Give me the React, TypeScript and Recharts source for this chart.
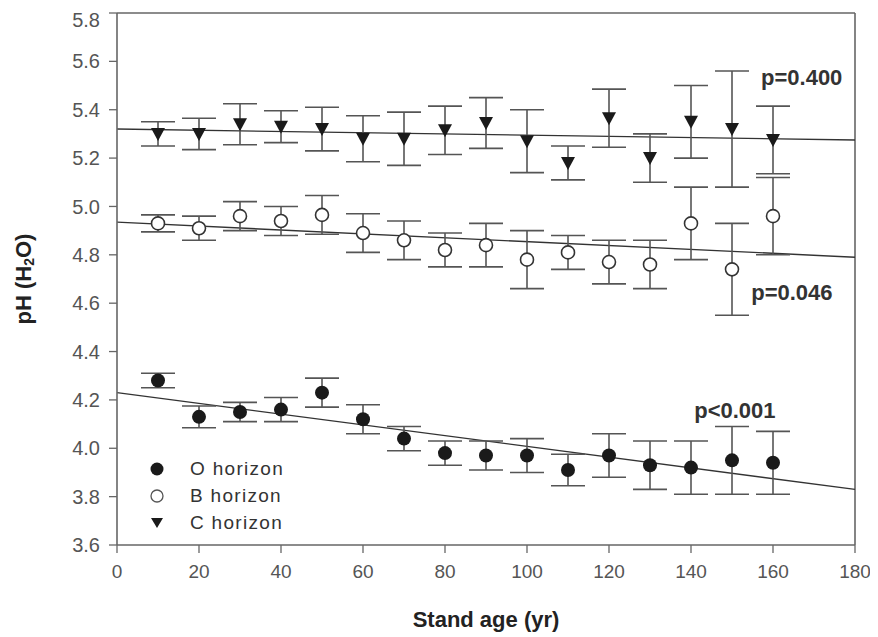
import React from 'react';
import { ComposedChart, Scatter, ErrorBar, XAxis, YAxis, ReferenceLine, ReferenceDot, Label } from 'recharts';

// stand ages (yr)
const ages = [10, 20, 30, 40, 50, 60, 70, 80, 90, 100, 110, 120, 130, 140, 150, 160];

// O horizon
const oMean = [4.28, 4.13, 4.15, 4.16, 4.23, 4.12, 4.04, 3.98, 3.97, 3.97, 3.91, 3.97, 3.93, 3.92, 3.95, 3.94];
const oErr = [0.03, 0.045, 0.04, 0.05, 0.06, 0.06, 0.05, 0.05, 0.06, 0.07, 0.065, 0.09, 0.1, 0.11, 0.14, 0.13];

// B horizon
const bMean = [4.93, 4.91, 4.96, 4.94, 4.965, 4.89, 4.86, 4.82, 4.84, 4.78, 4.81, 4.77, 4.76, 4.93, 4.74, 4.96];
const bErr = [0.035, 0.05, 0.06, 0.06, 0.08, 0.08, 0.08, 0.07, 0.09, 0.12, 0.07, 0.09, 0.1, 0.15, 0.19, 0.16];

// C horizon
const cMean = [5.3, 5.3, 5.34, 5.33, 5.32, 5.28, 5.28, 5.315, 5.345, 5.27, 5.18, 5.365, 5.2, 5.35, 5.32, 5.275];
const cErr = [0.05, 0.065, 0.085, 0.066, 0.09, 0.095, 0.11, 0.1, 0.105, 0.13, 0.07, 0.12, 0.1, 0.15, 0.24, 0.14];

// regression lines, value at age 0 and at age 180
const trendX = [0, 180];
const oTrend = [4.23, 3.83];
const bTrend = [4.935, 4.79];
const cTrend = [5.32, 5.275];

const xTicks = [0, 20, 40, 60, 80, 100, 120, 140, 160, 180];
const yTicks = [3.6, 3.8, 4.0, 4.2, 4.4, 4.6, 4.8, 5.0, 5.2, 5.4, 5.6, 5.8];

const toRows = (mean: number[], err: number[]) => ages.map((a, i) => ({ age: a, ph: mean[i], err: err[i] }));
const oData = toRows(oMean, oErr);
const bData = toRows(bMean, bErr);
const cData = toRows(cMean, cErr);

const seg = (t: number[]) => [
  { x: trendX[0], y: t[0] },
  { x: trendX[1], y: t[1] },
];

const INK = '#1a1a1a';
const AXIS = '#666';

const FilledDot = (p: any) => <circle cx={p.cx} cy={p.cy} r={7} fill={INK} />;
const OpenDot = (p: any) => <circle cx={p.cx} cy={p.cy} r={6.5} fill="#fff" stroke="#333" strokeWidth={1.6} />;
const Tri = (p: any) => (
  <polygon points={`${p.cx - 7},${p.cy - 6} ${p.cx + 7},${p.cy - 6} ${p.cx},${p.cy + 7}`} fill={INK} />
);

const YTitle = ({ viewBox }: any) => {
  const cx = 15;
  const cy = viewBox.y + viewBox.height / 2;
  return (
    <text
      x={cx}
      y={cy}
      transform={`rotate(-90 ${cx} ${cy})`}
      textAnchor="middle"
      dominantBaseline="central"
      fontSize={22}
      fontWeight="bold"
      fill="#222"
    >
      pH (H<tspan dy={6} fontSize={14}>2</tspan>
      <tspan dy={-6}>O)</tspan>
    </text>
  );
};

const legendItems = [
  { name: 'O horizon', icon: <circle cx={8} cy={8} r={6.5} fill={INK} /> },
  { name: 'B horizon', icon: <circle cx={8} cy={8} r={6} fill="#fff" stroke="#555" strokeWidth={1.3} /> },
  { name: 'C horizon', icon: <polygon points="2,3 14,3 8,13" fill={INK} /> },
];

const pLabel = (text: string) => (
  <Label value={text} position="center" fill="#333" fontSize={22} fontWeight="bold" />
);

export default function App() {
  return (
    <div style={{ position: 'relative', width: 870, height: 629, fontFamily: 'Arial, "Liberation Sans", sans-serif' }}>
      <ComposedChart width={870} height={629} margin={{ top: 5, right: 23, left: 0, bottom: 0 }}>
        <XAxis
          type="number"
          dataKey="age"
          domain={[0, 180]}
          ticks={xTicks}
          allowDataOverflow
          axisLine={{ stroke: AXIS, strokeWidth: 1.6 }}
          tickLine={{ stroke: AXIS, strokeWidth: 1.3 }}
          tickSize={8}
          tickMargin={12}
          tick={{ fill: '#555', fontSize: 19 }}
          height={92}
        >
          <Label value="Stand age (yr)" position="insideBottom" offset={10} fill="#222" fontSize={22} fontWeight="bold" />
        </XAxis>
        <YAxis
          type="number"
          dataKey="ph"
          domain={[3.6, 5.8]}
          ticks={yTicks}
          allowDataOverflow
          tickFormatter={(v: number) => v.toFixed(1)}
          axisLine={{ stroke: AXIS, strokeWidth: 1.6 }}
          tickLine={{ stroke: AXIS, strokeWidth: 1.3 }}
          tickSize={8}
          tickMargin={9}
          tick={{ fill: '#555', fontSize: 20 }}
          width={109}
        >
          <Label content={<YTitle />} />
        </YAxis>

        <ReferenceLine y={5.8} stroke={AXIS} strokeWidth={1.6} />
        <ReferenceLine x={180} stroke={AXIS} strokeWidth={1.6} />

        <ReferenceLine segment={seg(cTrend)} stroke="#333" strokeWidth={1.4} />
        <ReferenceLine segment={seg(bTrend)} stroke="#333" strokeWidth={1.4} />
        <ReferenceLine segment={seg(oTrend)} stroke="#333" strokeWidth={1.4} />

        <Scatter name="C horizon" data={cData} dataKey="ph" shape={Tri} isAnimationActive={false}>
          <ErrorBar dataKey="err" direction="y" width={17} stroke="#555" strokeWidth={1.6} />
        </Scatter>
        <Scatter name="B horizon" data={bData} dataKey="ph" shape={OpenDot} isAnimationActive={false}>
          <ErrorBar dataKey="err" direction="y" width={17} stroke="#555" strokeWidth={1.6} />
        </Scatter>
        <Scatter name="O horizon" data={oData} dataKey="ph" shape={FilledDot} isAnimationActive={false}>
          <ErrorBar dataKey="err" direction="y" width={17} stroke="#555" strokeWidth={1.6} />
        </Scatter>

        <ReferenceDot x={167} y={5.535} r={0} fill="none" stroke="none" label={pLabel('p=0.400')} />
        <ReferenceDot x={164.6} y={4.646} r={0} fill="none" stroke="none" label={pLabel('p=0.046')} />
        <ReferenceDot x={150.7} y={4.158} r={0} fill="none" stroke="none" label={pLabel('p<0.001')} />
      </ComposedChart>

      <div style={{ position: 'absolute', left: 141, top: 447 }}>
        {legendItems.map((it) => (
          <div key={it.name} style={{ display: 'flex', alignItems: 'center', height: 27 }}>
            <svg width={16} height={16}>{it.icon}</svg>
            <span style={{ marginLeft: 25, fontSize: 19, letterSpacing: 1.3, color: '#333' }}>{it.name}</span>
          </div>
        ))}
      </div>
    </div>
  );
}
